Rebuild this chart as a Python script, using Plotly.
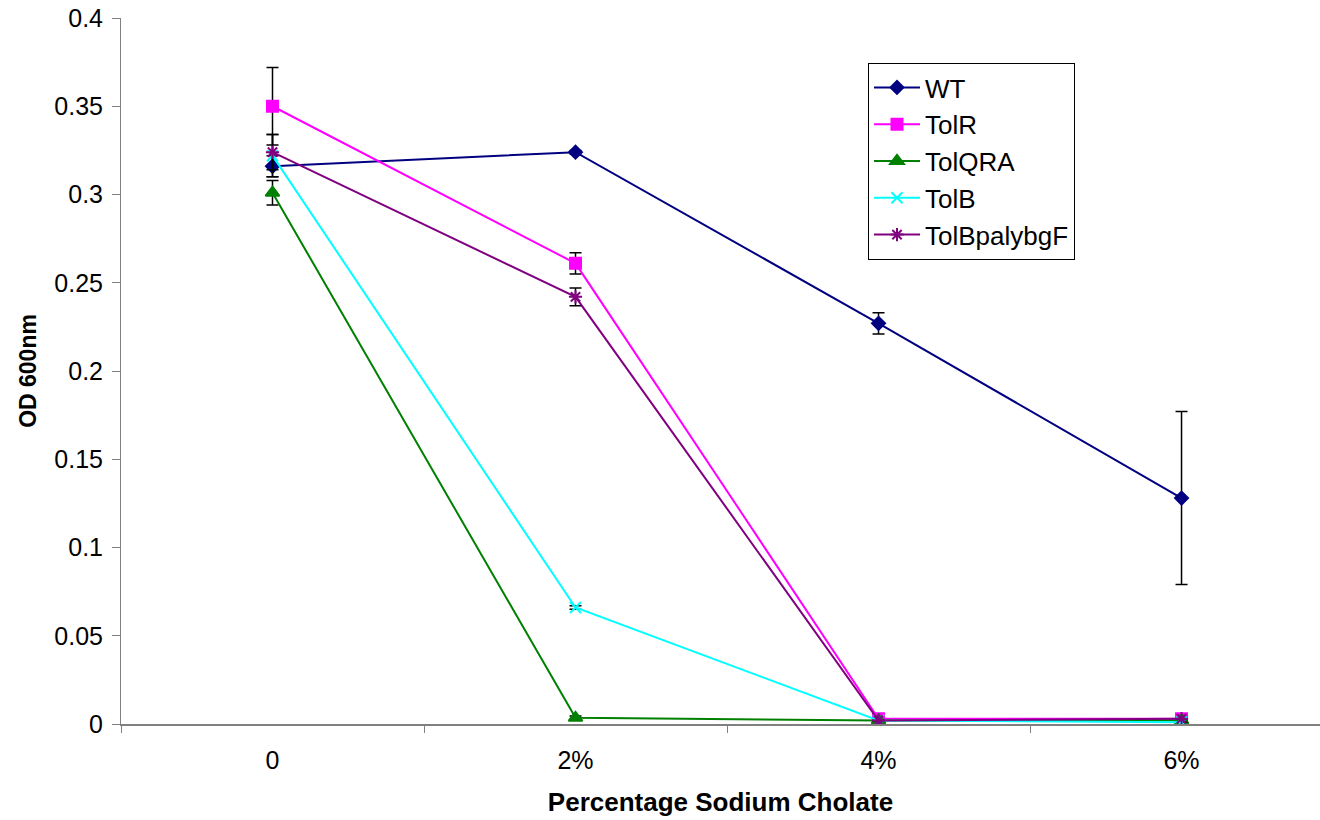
import plotly.graph_objects as go

categories = ["0", "2%", "4%", "6%"]
series_names = ["WT", "TolR", "TolQRA", "TolB", "TolBpalybgF"]
wt = [0.316, 0.324, 0.227, 0.128]
wt_err = [0.006, 0.001, 0.006, 0.049]
tolr = [0.350, 0.261, 0.003, 0.003]
tolr_err = [0.022, 0.006, 0.0, 0.0]
tolqra = [0.301, 0.0035, 0.002, 0.002]
tolqra_err = [0.007, 0.001, 0.0, 0.0]
tolb = [0.322, 0.066, 0.002, 0.001]
tolb_err = [0.012, 0.001, 0.0, 0.0]
tolbp = [0.324, 0.242, 0.002, 0.003]
tolbp_err = [0.010, 0.005, 0.0, 0.0]

values = [wt, tolr, tolqra, tolb, tolbp]
errors = [wt_err, tolr_err, tolqra_err, tolb_err, tolbp_err]
colors = ["#000080", "#FF00FF", "#008000", "#00FFFF", "#800080"]
symbols = ["diamond", "square", "triangle-up", "x-thin-open", "asterisk-open"]
sizes = [10, 11, 12, 11, 11]

xpos = list(range(len(categories)))

fig = go.Figure()
for name, v, e, c, s, sz in zip(series_names, values, errors, colors, symbols, sizes):
    fig.add_trace(go.Scatter(
        x=xpos, y=v, name=name, mode="lines+markers",
        line=dict(color=c, width=2),
        marker=dict(symbol=s, size=sz, color=c, line=dict(color=c, width=2)),
        error_y=dict(type="data", array=e, visible=True, color="black",
                     thickness=1.5, width=6),
    ))

fig.update_layout(
    width=1320, height=820,
    margin=dict(l=121, r=0, t=18, b=96),
    paper_bgcolor="white", plot_bgcolor="white",
    font=dict(family="Liberation Sans, Arial, sans-serif", size=25, color="black"),
    showlegend=True,
    legend=dict(x=(868 - 121) / 1199, y=(724 - 63) / 706, xanchor="left", yanchor="top",
                bgcolor="white", bordercolor="black", borderwidth=1,
                font=dict(size=26), tracegroupgap=0, itemwidth=46),
    xaxis=dict(
        range=[-0.5, 3.457], tickmode="array", tickvals=xpos, ticktext=categories,
        ticks="", showgrid=False, zeroline=False,
        showline=True, linecolor="#808080", linewidth=2,
        minor=dict(tickvals=[-0.5, 0.5, 1.5, 2.5, 3.5], ticks="outside",
                   ticklen=7, tickcolor="#808080", tickwidth=1, showgrid=False),
        title=dict(text="<b>Percentage Sodium Cholate</b>", font=dict(size=26), standoff=20),
        tickfont=dict(size=25), ticklabelstandoff=13,
    ),
    yaxis=dict(
        range=[0, 0.4], tickmode="array",
        tickvals=[0, 0.05, 0.1, 0.15, 0.2, 0.25, 0.3, 0.35, 0.4],
        ticktext=["0", "0.05", "0.1", "0.15", "0.2", "0.25", "0.3", "0.35", "0.4"],
        ticks="outside", ticklen=8, tickcolor="#808080", tickwidth=1,
        showgrid=False, zeroline=False,
        showline=True, linecolor="#808080", linewidth=1,
        title=dict(text="<b>OD 600nm</b>", font=dict(size=23), standoff=11),
        tickfont=dict(size=25), ticklabelstandoff=4,
    ),
)

fig.write_html("out.html", config={"displayModeBar": False},
               post_script="document.body.style.margin='0';document.body.style.overflow='hidden';")
